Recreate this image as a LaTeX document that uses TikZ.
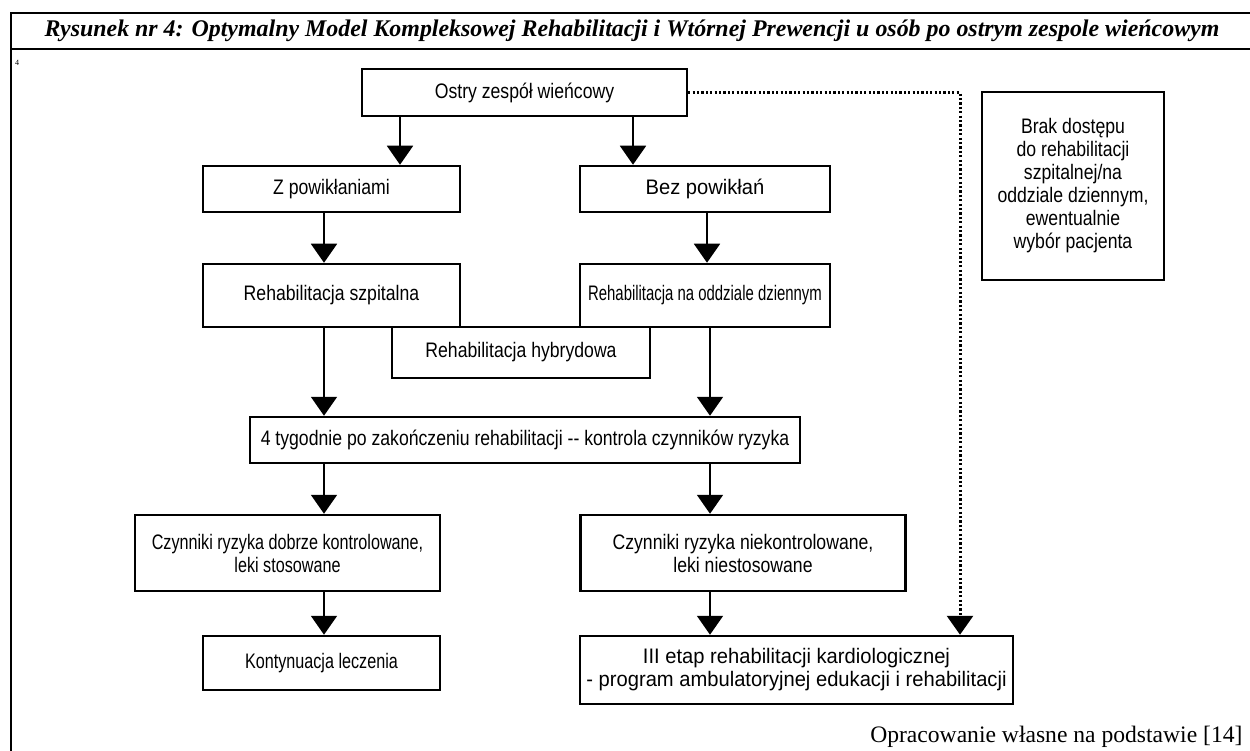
\documentclass[tikz,border=0pt]{standalone}
\usepackage{fontspec}
\setmainfont{Liberation Serif}
\newfontfamily\boxfont{Liberation Sans}[FakeStretch=0.84]
\newfontfamily\condfont{Liberation Sans}[FakeStretch=0.77]
\newfontfamily\tightfont{Liberation Sans}[FakeStretch=0.71]
\newfontfamily\widefont{Liberation Sans}[FakeStretch=0.96]
\usetikzlibrary{arrows.meta}
\tikzset{
  box/.style={draw, line width=2.5pt, inner sep=0pt, align=center,
    font=\boxfont\fontsize{21}{23}\selectfont},
  cond/.style={font=\condfont\fontsize{21}{23}\selectfont},
  tight/.style={font=\tightfont\fontsize{21}{23}\selectfont},
  wide/.style={font=\widefont\fontsize{21}{23}\selectfont},
  arr/.style={line width=2pt, -{Triangle[length=19pt,width=26pt]}},
  dots/.style={line width=3pt, dash pattern=on 2.2pt off 2.2pt,
    -{Triangle[length=19pt,width=26pt]}}
}
\begin{document}
\begin{tikzpicture}[x=1pt, y=-1pt]
\useasboundingbox (0,0) rectangle (1250,751);
\draw[line width=2pt] (11,751) -- (11,13) -- (1250,13);
\draw[line width=2pt] (11,49) -- (1250,49);
\node (title) at (632,31) {\fontsize{23.9}{27}\selectfont\bfseries\itshape Rysunek nr 4: Optymalny Model Kompleksowej Rehabilitacji i Wtórnej Prewencji u osób po ostrym zespole wieńcowym};
\node (nr) at (17,63) {\fontsize{8}{9}\selectfont 4};
\coordinate (lx) at (324,0);
\coordinate (rx) at (710,0);
\coordinate (dx) at (960,0);
\node[box, minimum width=325pt, minimum height=47pt] (acs) at (524.5,92.5) {Ostry zespół wieńcowy};
\node[box, minimum width=257pt, minimum height=46pt] (zpow) at (331.5,189) {Z powikłaniami};
\node[box, wide, minimum width=250pt, minimum height=46pt] (bezpow) at (705,189) {Bez powikłań};
\node[box, minimum width=257pt, minimum height=63pt] (rszp) at (331.5,295.5) {Rehabilitacja szpitalna};
\node[box, tight, minimum width=250pt, minimum height=63pt] (rdz) at (705,295.5) {Rehabilitacja na oddziale dziennym};
\node[box, minimum width=258pt, minimum height=51pt] (rhyb) at (521,352.5) {Rehabilitacja hybrydowa};
\node[box, minimum width=550pt, minimum height=46pt] (kontrola) at (525,440) {4 tygodnie po zakończeniu rehabilitacji -- kontrola czynników ryzyka};
\node[box, cond, minimum width=305pt, minimum height=76pt] (dobrze) at (287.5,553) {Czynniki ryzyka dobrze kontrolowane,\\leki stosowane};
\node[box, minimum width=325pt, minimum height=76pt] (niekontr) at (743,553) {Czynniki ryzyka niekontrolowane,\\leki niestosowane};
\node[box, cond, minimum width=237pt, minimum height=54pt] (kontyn) at (321.5,663) {Kontynuacja leczenia};
\node[box, wide, minimum width=433pt, minimum height=68pt] (etap) at (796.5,670) {III etap rehabilitacji kardiologicznej\\- program ambulatoryjnej edukacji i rehabilitacji};
\node[box, minimum width=182pt, minimum height=188pt] (brak) at (1073,186) {Brak dostępu\\do rehabilitacji\\szpitalnej/na\\oddziale dziennym,\\ewentualnie\\wybór pacjenta};
\node[anchor=east] (zrodlo) at (1246,737) {\fontsize{23.6}{27}\selectfont Opracowanie własne na podstawie [14]};
\draw[arr] (acs.south -| 400,0) -- (zpow.north -| 400,0);
\draw[arr] (acs.south -| 633,0) -- (bezpow.north -| 633,0);
\draw[arr] (zpow.south -| lx) -- (rszp.north -| lx);
\draw[arr] (bezpow.south -| 707,0) -- (rdz.north -| 707,0);
\draw[arr] (rszp.south -| lx) -- (kontrola.north -| lx);
\draw[arr] (rdz.south -| rx) -- (kontrola.north -| rx);
\draw[arr] (kontrola.south -| lx) -- (dobrze.north -| lx);
\draw[arr] (kontrola.south -| rx) -- (niekontr.north -| rx);
\draw[arr] (dobrze.south -| lx) -- (kontyn.north -| lx);
\draw[arr] (niekontr.south -| rx) -- (etap.north -| rx);
\draw[dots] (acs.east) -- (acs.east -| dx) -- (etap.north -| dx);
\end{tikzpicture}
\end{document}
